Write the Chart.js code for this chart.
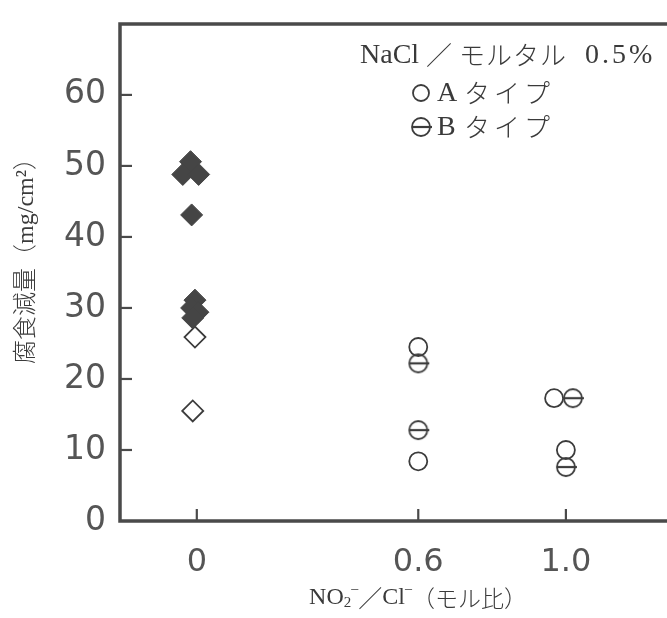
<!DOCTYPE html>
<html><head><meta charset="utf-8">
<script src="https://cdn.jsdelivr.net/npm/chart.js@4"></script>
<style>
html,body{margin:0;padding:0;background:#fff;overflow:hidden;}
#wrap{width:667px;height:618px;overflow:hidden;position:relative;}
canvas{display:block;}
</style></head>
<body><div id="wrap"><canvas id="c" width="700" height="618"></canvas></div>
<script>
// ---- data ----
const xTickValues = [0, 0.6, 1.0];
const xTickLabels = ['0', '0.6', '1.0'];
const yTickValues = [0, 10, 20, 30, 40, 50, 60];
// NO2-/Cl- = 0 : filled diamonds
const filledX = [-0.017, -0.038, 0.005, -0.014, -0.005, -0.014, 0.003, -0.011];
const filledY = [50.6, 48.8, 48.8, 43.1, 31.1, 30.0, 29.4, 28.6];
// NO2-/Cl- = 0 : open diamonds
const openDX = [-0.005, -0.011];
const openDY = [25.9, 15.5];
// A type (open circles)
const typeAX = [0.6, 0.6, 0.968, 1.0];
const typeAY = [24.5, 8.4, 17.3, 10.0];
// B type (circle with bar)
const typeBX = [0.6, 0.6, 1.019, 1.0];
const typeBY = [22.2, 12.8, 17.3, 7.6];

const legendTitle = ['NaCl', '／', 'モルタル', '0.5%'];
const legendA = 'Aタイプ';
const legendB = 'Bタイプ';
const yTitle = '腐食減量（mg/cm²）';

const pts = (xs, ys) => xs.map((x, i) => ({x: x, y: ys[i]}));
const INK = '#3c3c3c';

function makeBMarker(r) {
  const s = Math.ceil(r * 2 + 6);
  const cv = document.createElement('canvas');
  cv.width = s; cv.height = s;
  const g = cv.getContext('2d');
  const c = s / 2;
  g.strokeStyle = INK; g.lineWidth = 1.8;
  g.beginPath(); g.arc(c, c, r, 0, Math.PI * 2); g.stroke();
  g.lineWidth = 2.2;
  g.beginPath(); g.moveTo(c - r, c); g.lineTo(c + r + 2, c); g.stroke();
  return cv;
}
const bMarker = makeBMarker(9);

const framePlugin = {
  id: 'frame',
  afterDraw(chart) {
    const ctx = chart.ctx, a = chart.chartArea;
    const xs = chart.scales.x, ys = chart.scales.y;
    ctx.save();
    ctx.strokeStyle = '#4a4a4a';
    ctx.lineWidth = 3.5;
    ctx.lineCap = 'square';
    ctx.beginPath();
    ctx.moveTo(chart.width, a.top);
    ctx.lineTo(a.left, a.top);
    ctx.lineTo(a.left, a.bottom);
    ctx.lineTo(chart.width, a.bottom);
    ctx.stroke();
    ctx.lineWidth = 2.2;
    ctx.lineCap = 'butt';
    ys.ticks.forEach(t => {
      const y = ys.getPixelForValue(t.value);
      if (t.value <= 0) return;
      ctx.beginPath(); ctx.moveTo(a.left, y); ctx.lineTo(a.left + 12, y); ctx.stroke();
    });
    xs.ticks.forEach(t => {
      const x = xs.getPixelForValue(t.value);
      ctx.beginPath(); ctx.moveTo(x, a.bottom); ctx.lineTo(x, a.bottom - 12); ctx.stroke();
    });

    // legend
    ctx.fillStyle = '#3a3a3a';
    ctx.textBaseline = 'middle';
    ctx.textAlign = 'left';
    const serif = "'Liberation Serif', 'Noto Sans CJK JP', serif";
    const cjk = "'Noto Sans CJK JP', sans-serif";
    ctx.font = '28px ' + serif;
    ctx.fillText(legendTitle[0], 360, 56);
    ctx.font = '300 26px ' + cjk;
    ctx.fillText(legendTitle[1], 426, 55);
    ctx.letterSpacing = '1px';
    ctx.fillText(legendTitle[2], 459, 55);
    ctx.letterSpacing = '3px';
    ctx.font = '28px ' + serif;
    ctx.fillText(legendTitle[3], 585, 56);
    ctx.letterSpacing = '0px';
    // A marker
    ctx.strokeStyle = INK; ctx.lineWidth = 1.8;
    ctx.beginPath(); ctx.arc(421, 93, 8, 0, Math.PI * 2); ctx.stroke();
    ctx.drawImage(bMarker, 421 - bMarker.width / 2, 127 - bMarker.height / 2);
    ctx.font = '28px ' + serif;
    ctx.fillText(legendA[0], 437, 94);
    ctx.fillText(legendB[0], 437, 128);
    ctx.font = '300 26px ' + cjk;
    ctx.letterSpacing = '4px';
    ctx.fillText(legendA.slice(1), 464, 93);
    ctx.fillText(legendB.slice(1), 464, 127);
    ctx.letterSpacing = '0px';

    // y title
    ctx.save();
    ctx.translate(27, 255);
    ctx.rotate(-Math.PI / 2);
    ctx.textAlign = 'center';
    ctx.font = '300 24px ' + "'Liberation Serif', 'Noto Sans CJK JP', serif";
    ctx.fillText(yTitle, 0, 0);
    ctx.restore();

    // x title: NO2- / Cl- (モル比)
    const parts = [
      ['NO', 24, 0, serif], ['2', 15, 5, serif], ['\u2013', 14, -9, serif],
      ['／', 24, 0, cjk], ['Cl', 24, 0, serif], ['\u2013', 14, -9, serif],
      ['（モル比）', 23, 0, cjk]
    ];
    let total = 0;
    parts.forEach(p => { ctx.font = '300 ' + p[1] + 'px ' + p[3]; total += ctx.measureText(p[0]).width; });
    let x = 418 - total / 2;
    parts.forEach(p => {
      ctx.font = '300 ' + p[1] + 'px ' + p[3];
      ctx.fillText(p[0], x, 598 + p[2]);
      x += ctx.measureText(p[0]).width;
    });
    ctx.restore();
  }
};

new Chart(document.getElementById('c'), {
  type: 'scatter',
  data: {
    datasets: [
      { label: 'filled', data: pts(filledX, filledY), pointStyle: 'rectRot', pointRadius: 11,
        backgroundColor: '#454545', borderColor: '#454545', borderWidth: 1 },
      { label: 'open', data: pts(openDX, openDY), pointStyle: 'rectRot', pointRadius: 10.5,
        backgroundColor: 'rgba(0,0,0,0)', borderColor: INK, borderWidth: 1.8 },
      { label: 'Aタイプ', data: pts(typeAX, typeAY), pointStyle: 'circle', pointRadius: 9,
        backgroundColor: 'rgba(0,0,0,0)', borderColor: INK, borderWidth: 1.8 },
      { label: 'Bタイプ', data: pts(typeBX, typeBY), pointStyle: bMarker, pointRadius: 9,
        backgroundColor: 'rgba(0,0,0,0)', borderColor: INK, borderWidth: 1.8 }
    ]
  },
  options: {
    responsive: false,
    animation: false,
    events: [],
    layout: { padding: { left: 0, top: 12, right: 0, bottom: 0 } },
    plugins: { legend: { display: false }, tooltip: { enabled: false } },
    scales: {
      x: {
        type: 'linear', min: -0.2081, max: 1.330,
        afterBuildTicks: s => { s.ticks = xTickValues.map(v => ({value: v})); },
        afterFit: s => { s.height = 97; },
        grid: { display: false, drawTicks: false },
        border: { display: false },
        ticks: {
          padding: 22, color: '#555555', maxRotation: 0, autoSkip: false,
          font: { family: "'DejaVu Sans', sans-serif", size: 32, weight: 'normal', lineHeight: 1.2 },
          callback: (v) => { const i = xTickValues.indexOf(v); return i >= 0 ? xTickLabels[i] : ''; }
        }
      },
      y: {
        min: 0, max: 70,
        afterBuildTicks: s => { s.ticks = yTickValues.map(v => ({value: v})); },
        afterFit: s => { s.width = 120; },
        grid: { display: false, drawTicks: false },
        border: { display: false },
        ticks: {
          padding: 14, color: '#555555',
          font: { family: "'DejaVu Sans', sans-serif", size: 33, weight: 'normal', lineHeight: 0.6 },
          callback: v => String(v)
        }
      }
    }
  },
  plugins: [framePlugin]
});
</script></body></html>
